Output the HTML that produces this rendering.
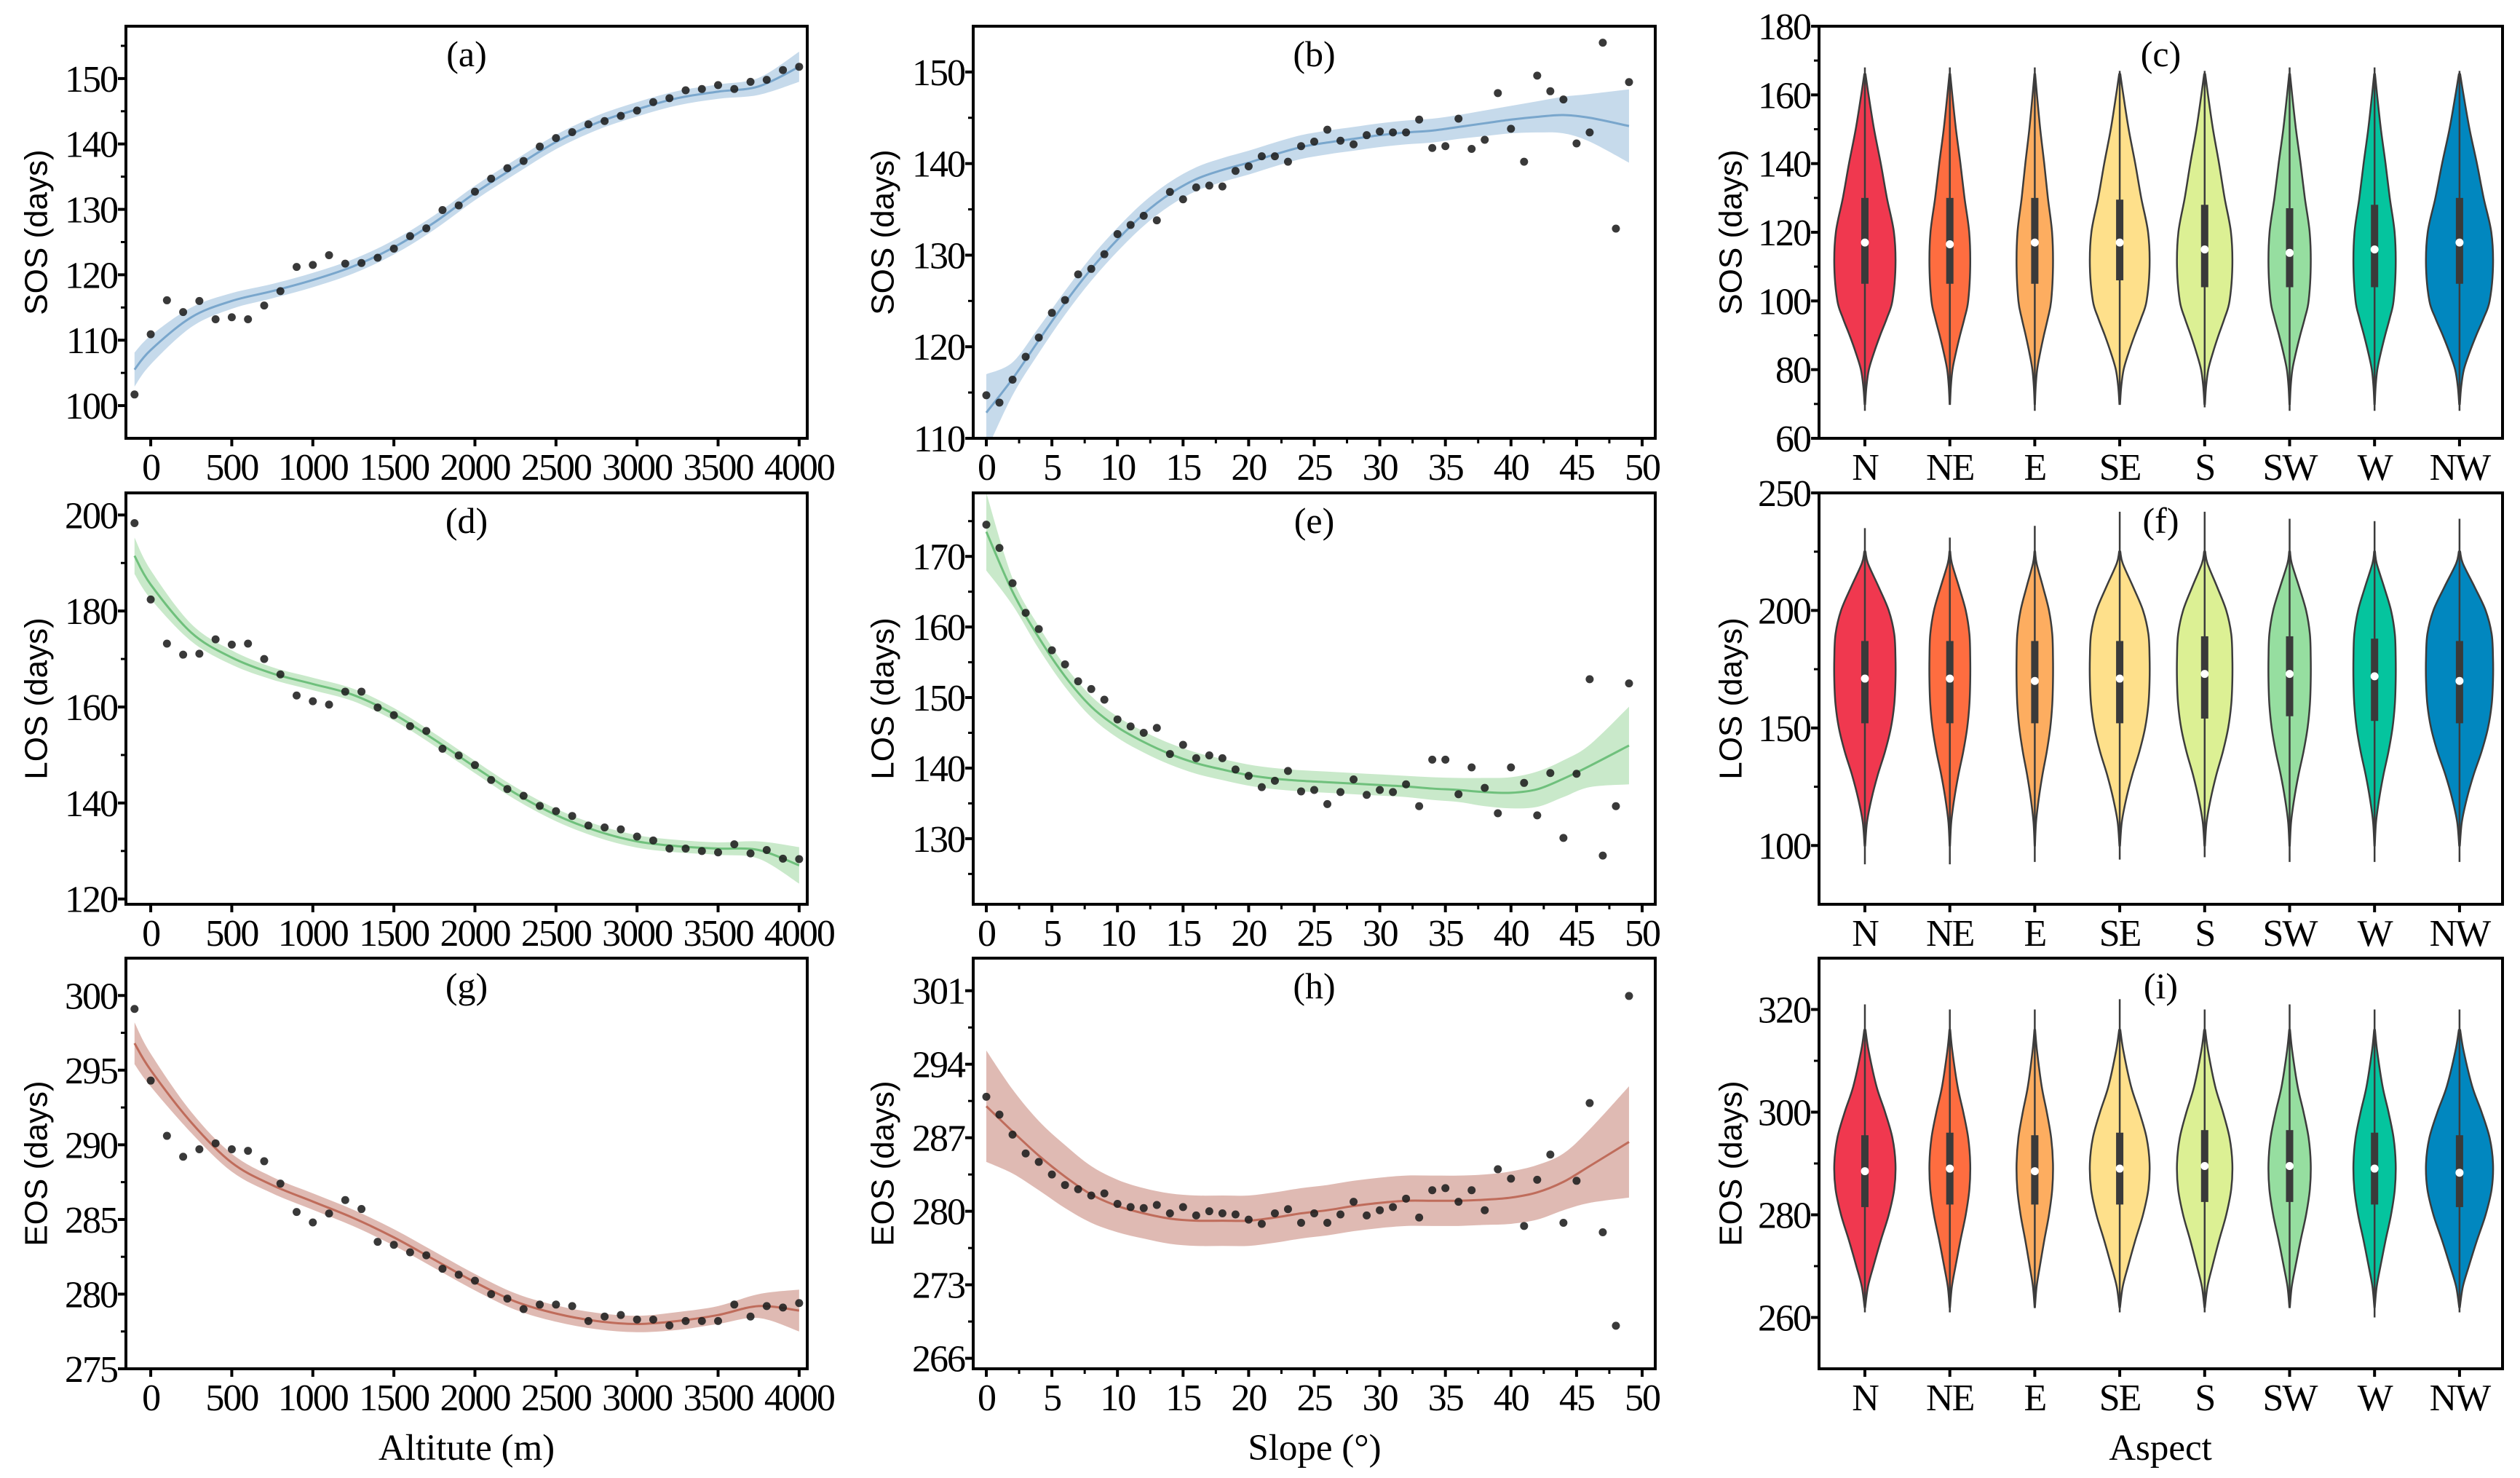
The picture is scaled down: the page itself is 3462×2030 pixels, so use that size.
<!DOCTYPE html>
<html><head><meta charset="utf-8"><style>
html,body{margin:0;padding:0;background:#fff;}
svg{display:block;}
text{font-family:"Liberation Serif",serif;fill:#000;}
.yl{font-family:"Liberation Sans",sans-serif;font-size:44px;}
.tk{font-size:52px;letter-spacing:-2px;}
</style></head><body>
<svg id="fig" xmlns="http://www.w3.org/2000/svg" width="3462" height="2030" viewBox="0 0 3462 2030"></svg>
<script>
// ---------- data ----------
const altX=[-100,0,100,200,300,400,500,600,700,800,900,1000,1100,1200,1300,1400,1500,1600,1700,1800,1900,2000,2100,2200,2300,2400,2500,2600,2700,2800,2900,3000,3100,3200,3300,3400,3500,3600,3700,3800,3900,4000];
const sosAlt=[101.7,110.9,116.1,114.3,116,113.2,113.5,113.2,115.3,117.5,121.2,121.5,123,121.7,121.8,122.6,124,125.9,127.1,129.9,130.6,132.7,134.7,136.3,137.4,139.6,140.9,141.8,143,143.5,144.3,145.1,146.4,147,148.2,148.4,149,148.4,149.5,149.8,151.3,151.8];
const losAlt=[198.3,182.4,173.2,170.9,171.1,174.1,173,173.2,170,166.8,162.4,161.2,160.5,163.2,163.2,159.9,158.3,156,155,151.3,149.9,147.9,144.8,142.9,141.5,139.4,138.3,137.3,135.3,134.9,134.5,133,132.2,130.5,130.5,130,129.7,131.4,129.5,130.2,128.4,128.3];
const eosAlt=[299.1,294.3,290.6,289.2,289.7,290.1,289.7,289.6,288.9,287.4,285.5,284.8,285.4,286.3,285.7,283.5,283.3,282.8,282.6,281.7,281.3,280.9,280,279.7,279,279.3,279.3,279.2,278.2,278.5,278.6,278.3,278.3,277.9,278.2,278.2,278.2,279.3,278.5,279.2,279.1,279.4];
const fitAltX=[-100,0,250,500,750,1000,1250,1500,1750,2000,2250,2500,2750,3000,3250,3500,3750,4000];
const sosAltFit=[105.5,108.5,113.5,116,117.5,119.2,121.3,124.2,128,132.5,136.5,140.3,143.2,145.3,147,148,148.8,151.8];
const sosAltBand=[2.6,2.2,1.5,1.2,1.1,1.1,1.1,1.1,1.1,1.1,1.1,1.1,1.1,1.1,1.1,1.1,1.3,2.3];
const losAltFit=[191.5,185.5,175.5,170.3,167,164.8,162.5,158.5,153.2,147.5,142,137.5,134.2,132,131,130.5,130.2,127];
const losAltBand=[3.8,3,1.8,1.5,1.3,1.3,1.3,1.3,1.3,1.3,1.3,1.3,1.3,1.3,1.3,1.3,1.8,3.8];
const eosAltFit=[296.8,295,291.5,288.8,287.3,286.2,285.1,283.8,282.3,280.8,279.5,278.7,278.2,278,278.2,278.6,279.2,278.9];
const eosAltBand=[1.4,1.1,0.7,0.6,0.55,0.55,0.55,0.55,0.55,0.55,0.55,0.55,0.55,0.55,0.6,0.6,0.8,1.4];

const slopeX=[0,1,2,3,4,5,6,7,8,9,10,11,12,13,14,15,16,17,18,19,20,21,22,23,24,25,26,27,28,29,30,31,32,33,34,35,36,37,38,39,40,41,42,43,44,45,46,47,48,49];
const sosSlope=[114.7,113.9,116.4,118.9,121,123.7,125.1,127.9,128.5,130.1,132.3,133.3,134.3,133.8,136.9,136.1,137.4,137.6,137.5,139.2,139.7,140.8,140.8,140.2,141.9,142.4,143.7,142.5,142.1,143.1,143.5,143.4,143.4,144.8,141.7,141.9,144.9,141.6,142.6,147.7,143.8,140.2,149.6,147.9,147,142.2,143.4,153.2,132.9,148.9];
const losSlope=[174.5,171.2,166.2,162,159.7,156.7,154.7,152.3,151.2,149.7,146.9,145.9,145,145.7,142,143.3,141.4,141.8,141.4,139.8,138.9,137.3,138.2,139.6,136.7,136.9,134.9,136.6,138.4,136.2,136.9,136.6,137.7,134.6,141.2,141.2,136.3,140.1,137.2,133.6,140.1,137.9,133.3,139.3,130.1,139.2,152.6,127.6,134.6,152];
const eosSlope=[290.9,289.2,287.3,285.5,284.7,283.5,282.5,282.1,281.5,281.7,280.7,280.4,280.3,280.6,279.8,280.4,279.6,280,279.8,279.7,279.2,278.8,279.8,280.2,278.9,279.8,278.9,279.7,280.9,279.6,280.1,280.4,281.2,279.4,282,282.2,280.9,282,280.1,284,283.1,278.6,283,285.4,278.9,282.9,290.3,278,269.1,300.5];
const fitSlopeX=[0,2,4,6,8,10,12,14,16,18,20,22,24,26,28,30,32,34,36,38,40,42,44,46,49];
const sosSlopeFit=[112.8,116.5,120.7,124.8,128.5,131.7,134.5,136.7,138.3,139.3,140.1,141,141.8,142.3,142.7,143.1,143.4,143.6,144,144.4,144.8,145.1,145.3,145,144.1];
const sosSlopeBand=[4.2,1.8,1.4,1.3,1.3,1.3,1.3,1.3,1.3,1.3,1.3,1.3,1.3,1.3,1.3,1.3,1.3,1.3,1.3,1.4,1.5,1.7,2,2.6,4];
const losSlopeFit=[173.5,165,158.5,153,148.7,145.8,143.7,142,140.7,139.8,139,138.5,138.2,138,137.8,137.6,137.4,137.1,136.9,136.6,136.5,137,138.5,140.3,143.2];
const losSlopeBand=[5.5,1.9,1.6,1.5,1.5,1.5,1.5,1.5,1.5,1.5,1.5,1.5,1.5,1.5,1.5,1.5,1.5,1.6,1.7,2,2.2,2.5,2.6,3,5.5];
const eosSlopeFit=[290,287.6,285.3,283.3,281.6,280.5,279.8,279.3,279.1,279.1,279.1,279.4,279.8,280.1,280.5,280.8,281,281,281,281.1,281.3,281.8,282.8,284.3,286.6];
const eosSlopeBand=[5.3,4,3.3,3,2.7,2.5,2.4,2.4,2.4,2.4,2.4,2.4,2.4,2.4,2.4,2.4,2.4,2.4,2.4,2.4,2.5,2.6,2.7,3.5,5.3];

const aspects=["N","NE","E","SE","S","SW","W","NW"];
const violinColors=["#f0384f","#fe6d40","#fdad60","#fee08b","#dcf094","#96dea0","#05c49e","#0187bf"];
const violinHalf=[42,28,25,41,38,29,29,46];
const sosMed=[117,116.5,117,117,115,114,115,117];
const sosQ1=[105,105,105,106,104,104,104,105];
const sosQ3=[130,130,130,129.5,128,127,128,130];
const sosMin=[68,71,68,70,69,68,68,68];
const sosMax=[168,168,168,167,167,168,168,167];
const sosProfV=[166,160,150,140,130,120,110,100,95,90,85,80,75,70];
const sosProfW=[0.02,0.12,0.3,0.52,0.72,0.95,1,0.9,0.72,0.5,0.3,0.13,0.05,0.01];
const losMed=[171,171,170,171,173,173,172,170];
const losQ1=[152,152,152,152,154,155,153,152];
const losQ3=[187,187,187,187,189,189,188,187];
const losMin=[92,92,93,94,95,93,93,93];
const losMax=[235,231,236,242,242,239,238,239];
const losProfV=[225,220,210,200,190,180,170,160,150,140,130,120,110,100];
const losProfW=[0.02,0.1,0.45,0.78,0.96,1,1,0.96,0.85,0.66,0.42,0.22,0.07,0.01];
const eosMed=[288.5,289,288.5,289,289.5,289.5,289,288.2];
const eosQ1=[281.5,282,282,282,282.5,282.5,282,281.5];
const eosQ3=[295.5,296,295.5,296,296.5,296.5,296,295.5];
const eosMin=[261,261,262,261,261,262,260,261];
const eosMax=[321,320,320,322,320,321,320,320];
const eosProfV=[316,312,305,300,295,290,285,280,275,270,266,262];
const eosProfW=[0.02,0.12,0.38,0.66,0.9,1,0.96,0.78,0.52,0.28,0.1,0.01];

// ---------- helpers ----------
const NS="http://www.w3.org/2000/svg";
const svg=document.getElementById('fig');
function mk(tag,attrs,parent){const e=document.createElementNS(NS,tag);for(const k in attrs)e.setAttribute(k,attrs[k]);(parent||svg).appendChild(e);return e;}
function txt(s,attrs,parent){const e=mk('text',attrs,parent);e.textContent=s;return e;}
function spline(pts){let d='M'+pts[0][0]+','+pts[0][1];for(let i=0;i<pts.length-1;i++){const p0=pts[Math.max(0,i-1)],p1=pts[i],p2=pts[i+1],p3=pts[Math.min(pts.length-1,i+2)];const c1=[p1[0]+(p2[0]-p0[0])/6,p1[1]+(p2[1]-p0[1])/6],c2=[p2[0]-(p3[0]-p1[0])/6,p2[1]-(p3[1]-p1[1])/6];d+='C'+c1[0]+','+c1[1]+' '+c2[0]+','+c2[1]+' '+p2[0]+','+p2[1];}return d;}
function splineCont(pts){return spline(pts).replace(/^M[^C]*/,'L'+pts[0][0]+','+pts[0][1]);}

function axesFrame(g,box,name){
  const r=mk('rect',{x:box.l,y:box.t,width:box.r-box.l,height:box.b-box.t,fill:'none',stroke:'#000','stroke-width':4},g);
  
  
}
function yAxis(g,box,ys,ticks,minor,name){
  const ax=mk('g',{},g);
  
  
  ticks.forEach(v=>{const y=ys(v);mk('line',{x1:box.l-11,x2:box.l,y1:y,y2:y,stroke:'#000','stroke-width':4},ax);
    txt(String(v),{x:box.l-12,y:y+18,'text-anchor':'end','class':'tk'},ax);});
  minor.forEach(v=>{const y=ys(v);mk('line',{x1:box.l-7,x2:box.l,y1:y,y2:y,stroke:'#000','stroke-width':3},ax);});
}
function xAxis(g,box,xs,ticks,labels,minor,name){
  const ax=mk('g',{},g);
  
  
  ticks.forEach((v,i)=>{const x=xs(v);mk('line',{x1:x,x2:x,y1:box.b,y2:box.b+11,stroke:'#000','stroke-width':4},ax);
    txt(labels[i],{x:x,y:box.b+57,'text-anchor':'middle','class':'tk'},ax);});
  minor.forEach(v=>{const x=xs(v);mk('line',{x1:x,x2:x,y1:box.b,y2:box.b+7,stroke:'#000','stroke-width':3},ax);});
}
function ylab(g,s,x,box,name){const cy=(box.t+box.b)/2;const t=txt(s,{x:x,y:cy,'text-anchor':'middle','class':'yl',transform:'rotate(-90 '+x+' '+cy+')','dominant-baseline':'central'},g);}
function plabel(g,s,box,name){const t=txt(s,{x:(box.l+box.r)/2,y:box.t+55,'text-anchor':'middle','font-size':50},g);}

function scatterPanel(o){
  const g=mk('g',{});
  
  
  const b=o.box;
  const xs=v=>b.l+(v-o.xd[0])/(o.xd[1]-o.xd[0])*(b.r-b.l);
  const ys=v=>b.b-(v-o.yd[0])/(o.yd[1]-o.yd[0])*(b.b-b.t);
  const cid='clip-'+o.name;
  const cp=mk('clipPath',{id:cid},g);mk('rect',{x:b.l,y:b.t,width:b.r-b.l,height:b.b-b.t},cp);
  const inner=mk('g',{'clip-path':'url(#'+cid+')'},g);
  const up=o.fx.map((x,i)=>[xs(x),ys(o.fy[i]+o.fb[i])]);
  const lo=o.fx.map((x,i)=>[xs(x),ys(o.fy[i]-o.fb[i])]).reverse();
  const band=mk('path',{d:spline(up)+splineCont(lo)+'Z',fill:o.band,opacity:0.85},inner);
  
  
  const ln=mk('path',{d:spline(o.fx.map((x,i)=>[xs(x),ys(o.fy[i])])),fill:'none',stroke:o.line,'stroke-width':3},inner);
  
  
  o.px.forEach((x,i)=>{const c=mk('circle',{cx:xs(x),cy:ys(o.py[i]),r:5.5,fill:'#1e1e1e','fill-opacity':0.88},inner);
    
    });
  axesFrame(g,b,o.name);
  yAxis(g,b,ys,o.yt,o.ym,o.name);
  xAxis(g,b,xs,o.xt,o.xt.map(String),o.xm,o.name);
  ylab(g,o.ylabel,o.ylx,b,o.name);
  plabel(g,o.label,b,o.name);
}

function violinPanel(o){
  const g=mk('g',{});
  
  
  const b=o.box;
  const ys=v=>b.b-(v-o.yd[0])/(o.yd[1]-o.yd[0])*(b.b-b.t);
  const xs=i=>2562+i*116.7;
  aspects.forEach((a,i)=>{
    const cx=xs(i),hw=violinHalf[i];
    const vg=mk('g',{},g);
    
    
    const right=o.pv.map((v,k)=>[cx+hw*o.pw[k],ys(v)]);
    const left=o.pv.map((v,k)=>[cx-hw*o.pw[k],ys(v)]).reverse();
    mk('path',{d:spline(right)+splineCont(left)+'Z',fill:violinColors[i],stroke:'#3c3c3c','stroke-width':2.5},vg);
    mk('line',{x1:cx,x2:cx,y1:ys(o.max[i]),y2:ys(o.min[i]),stroke:'#3c3c3c','stroke-width':2.5},vg);
    mk('rect',{x:cx-5,y:ys(o.q3[i]),width:10,height:ys(o.q1[i])-ys(o.q3[i]),fill:'#3a3a3a'},vg);
    mk('circle',{cx:cx,cy:ys(o.med[i]),r:5.5,fill:'#fff'},vg);
  });
  axesFrame(g,b,o.name);
  yAxis(g,b,ys,o.yt,o.ym,o.name);
  xAxis(g,b,xs,aspects.map((a,i)=>i),aspects,[],o.name);
  ylab(g,o.ylabel,2378,b,o.name);
  plabel(g,o.label,b,o.name);
}

const rows=[{t:36,b:602},{t:677,b:1242},{t:1316,b:1880}];
const colA={l:173,r:1109},colB={l:1337,r:2274},colC={l:2499,r:3438};
function bx(c,r){return {l:c.l,r:c.r,t:r.t,b:r.b};}
const altTicks=[0,500,1000,1500,2000,2500,3000,3500,4000];
const slTicks=[0,5,10,15,20,25,30,35,40,45,50];
const slMinor=[2.5,7.5,12.5,17.5,22.5,27.5,32.5,37.5,42.5,47.5];

scatterPanel({name:'panel-a',box:bx(colA,rows[0]),xd:[-153,4050],yd:[95,158],px:altX,py:sosAlt,fx:fitAltX,fy:sosAltFit,fb:sosAltBand,band:'#bcd3e8',line:'#79a6cc',yt:[100,110,120,130,140,150],ym:[105,115,125,135,145,155],xt:altTicks,xm:[],ylabel:'SOS (days)',ylx:50,label:'(a)'});
scatterPanel({name:'panel-d',box:bx(colA,rows[1]),xd:[-153,4050],yd:[118.9,204.6],px:altX,py:losAlt,fx:fitAltX,fy:losAltFit,fb:losAltBand,band:'#bfe5c1',line:'#6fc07c',yt:[120,140,160,180,200],ym:[130,150,170,190],xt:altTicks,xm:[],ylabel:'LOS (days)',ylx:50,label:'(d)'});
scatterPanel({name:'panel-g',box:bx(colA,rows[2]),xd:[-153,4050],yd:[275,302.5],px:altX,py:eosAlt,fx:fitAltX,fy:eosAltFit,fb:eosAltBand,band:'#d9aea6',line:'#bf6c5b',yt:[275,280,285,290,295,300],ym:[277.5,282.5,287.5,292.5,297.5],xt:altTicks,xm:[],ylabel:'EOS (days)',ylx:50,label:'(g)'});
scatterPanel({name:'panel-b',box:bx(colB,rows[0]),xd:[-1,51],yd:[110,155],px:slopeX,py:sosSlope,fx:fitSlopeX,fy:sosSlopeFit,fb:sosSlopeBand,band:'#bcd3e8',line:'#79a6cc',yt:[110,120,130,140,150],ym:[115,125,135,145],xt:slTicks,xm:slMinor,ylabel:'SOS (days)',ylx:1213,label:'(b)'});
scatterPanel({name:'panel-e',box:bx(colB,rows[1]),xd:[-1,51],yd:[120.7,179],px:slopeX,py:losSlope,fx:fitSlopeX,fy:losSlopeFit,fb:losSlopeBand,band:'#bfe5c1',line:'#6fc07c',yt:[130,140,150,160,170],ym:[125,135,145,155,165,175],xt:slTicks,xm:slMinor,ylabel:'LOS (days)',ylx:1213,label:'(e)'});
scatterPanel({name:'panel-h',box:bx(colB,rows[2]),xd:[-1,51],yd:[265,304.1],px:slopeX,py:eosSlope,fx:fitSlopeX,fy:eosSlopeFit,fb:eosSlopeBand,band:'#d9aea6',line:'#bf6c5b',yt:[266,273,280,287,294,301],ym:[269.5,276.5,283.5,290.5,297.5],xt:slTicks,xm:slMinor,ylabel:'EOS (days)',ylx:1213,label:'(h)'});
violinPanel({name:'panel-c',box:bx(colC,rows[0]),yd:[60,180],pv:sosProfV,pw:sosProfW,med:sosMed,q1:sosQ1,q3:sosQ3,min:sosMin,max:sosMax,yt:[60,80,100,120,140,160,180],ym:[70,90,110,130,150,170],ylabel:'SOS (days)',label:'(c)'});
violinPanel({name:'panel-f',box:bx(colC,rows[1]),yd:[75,250],pv:losProfV,pw:losProfW,med:losMed,q1:losQ1,q3:losQ3,min:losMin,max:losMax,yt:[100,150,200,250],ym:[125,175,225],ylabel:'LOS (days)',label:'(f)'});
violinPanel({name:'panel-i',box:bx(colC,rows[2]),yd:[250,330],pv:eosProfV,pw:eosProfW,med:eosMed,q1:eosQ1,q3:eosQ3,min:eosMin,max:eosMax,yt:[260,280,300,320],ym:[270,290,310],ylabel:'EOS (days)',label:'(i)'});

const xt1=txt('Altitute (m)',{x:641,y:2005,'text-anchor':'middle','font-size':51});


const xt2=txt('Slope (°)',{x:1806,y:2005,'text-anchor':'middle','font-size':51});


const xt3=txt('Aspect',{x:2968,y:2005,'text-anchor':'middle','font-size':51});


</script>
</body></html>
